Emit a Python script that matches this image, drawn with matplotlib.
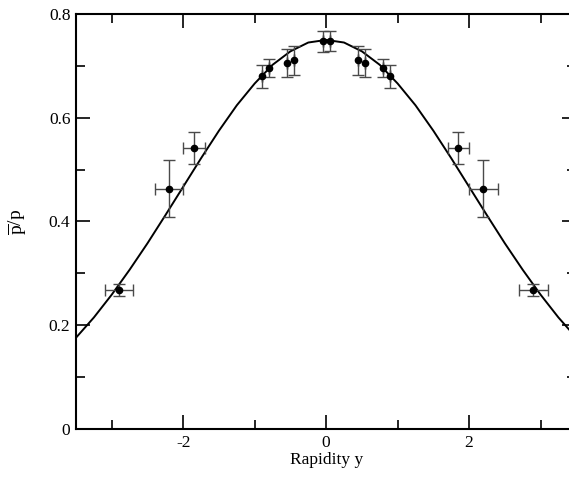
""" plot.py : antiproton / proton ratio vs rapidity """
import matplotlib
matplotlib.use("Agg")
import matplotlib.pyplot as plt
from matplotlib.ticker import MultipleLocator

""" data points read off the picture """
rap = [-2.90, -2.20, -1.85, -0.90, -0.80, -0.55, -0.45, -0.05, 0.05,
       0.45, 0.55, 0.80, 0.90, 1.85, 2.20, 2.90]
ratio = [0.268, 0.463, 0.541, 0.680, 0.696, 0.706, 0.711, 0.747, 0.748,
         0.711, 0.706, 0.696, 0.680, 0.541, 0.463, 0.268]
ratio_err = [0.011, 0.055, 0.031, 0.022, 0.018, 0.027, 0.028, 0.020, 0.020,
             0.028, 0.027, 0.018, 0.022, 0.031, 0.055, 0.011]
rap_err = [0.20, 0.20, 0.15, 0.0, 0.0, 0.0, 0.0, 0.0, 0.0,
           0.0, 0.0, 0.0, 0.0, 0.15, 0.20, 0.20]

""" model curve, sampled every 0.25 in rapidity """
curve_x = [-3.5, -3.25, -3.0, -2.75, -2.5, -2.25, -2.0, -1.75, -1.5, -1.25,
           -1.0, -0.75, -0.5, -0.25, 0.0, 0.25, 0.5, 0.75, 1.0, 1.25,
           1.5, 1.75, 2.0, 2.25, 2.5, 2.75, 3.0, 3.25, 3.5]
curve_y = [0.176, 0.215, 0.259, 0.307, 0.358, 0.412, 0.467, 0.522, 0.575, 0.624,
           0.666, 0.702, 0.728, 0.745, 0.750, 0.745, 0.728, 0.702, 0.666, 0.624,
           0.575, 0.522, 0.467, 0.412, 0.358, 0.307, 0.259, 0.215, 0.176]

plt.rcParams['font.family'] = ['Liberation Serif', 'DejaVu Serif']
plt.rcParams['mathtext.fontset'] = 'custom'
plt.rcParams['mathtext.rm'] = 'Liberation Serif'

fig = plt.figure(figsize=(5.69, 4.79), dpi=100)
# right edge of the frame falls just outside the picture, as in the original
ax = fig.add_axes([0.1336, 0.1044, 0.8792, 0.8664])

ax.plot(curve_x, curve_y, color='black', lw=1.4, zorder=2)
ax.errorbar(rap, ratio, yerr=ratio_err, xerr=rap_err, fmt='o', color='black',
            ms=4.5, ecolor='#4a4a4a', elinewidth=1.0, capsize=4, capthick=1.0,
            zorder=3)

ax.set_xlim(-3.5, 3.5)
ax.set_ylim(0, 0.8)
ax.xaxis.set_major_locator(MultipleLocator(2))
ax.xaxis.set_minor_locator(MultipleLocator(1))
ax.yaxis.set_major_locator(MultipleLocator(0.2))
ax.yaxis.set_minor_locator(MultipleLocator(0.1))
ax.set_xticks([-2, 0, 2])
ax.set_xticklabels(['-2', '0', '2'])
ax.set_yticks([0, 0.2, 0.4, 0.6, 0.8])
ax.set_yticklabels(['0', '0.2', '0.4', '0.6', '0.8'])

ax.tick_params(which='both', direction='in', top=True, right=True,
               width=1.2, labelsize=12.5, pad=4)
ax.tick_params(which='major', length=10)
ax.tick_params(which='minor', length=6.5)
for sp in ax.spines.values():
    sp.set_linewidth(1.5)

ax.set_xlabel('Rapidity y', fontsize=12.5, labelpad=1)
ax.set_ylabel(r'$\overline{\mathrm{p}}/\mathrm{p}$', fontsize=14, labelpad=14)

fig.savefig('out.png', dpi=100)
